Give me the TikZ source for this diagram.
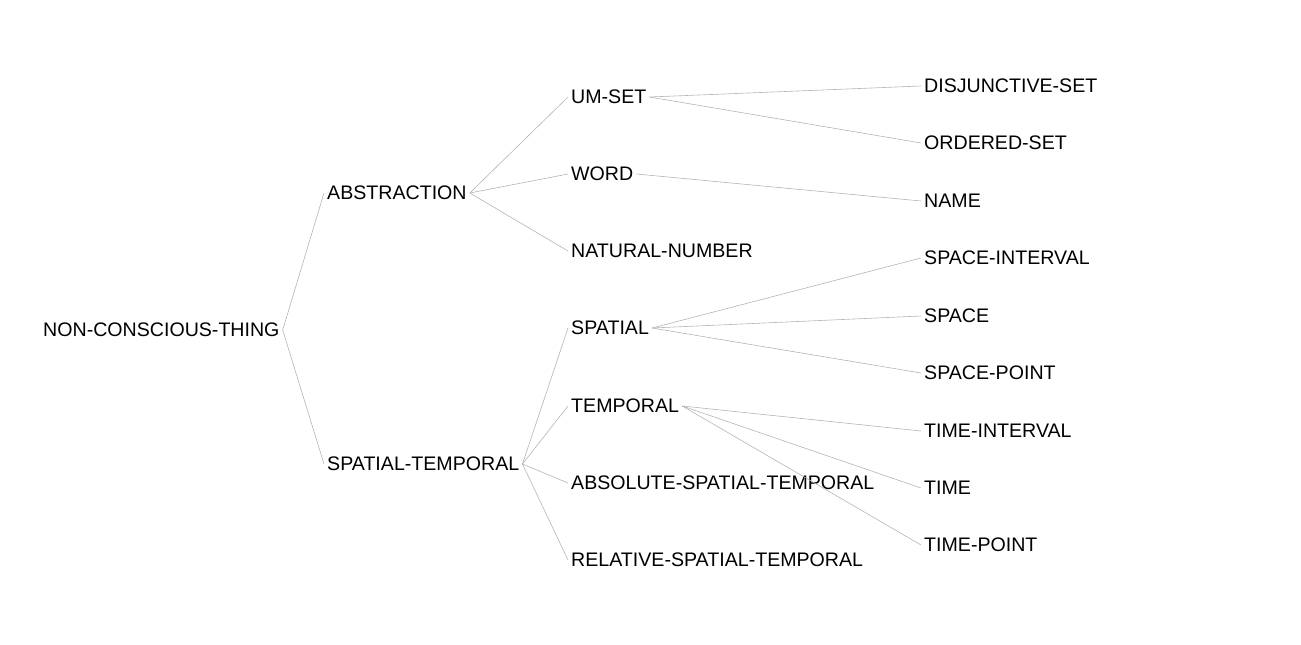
\documentclass[tikz,border=0pt]{standalone}
\usepackage{fontspec}
\setmainfont{Liberation Sans}
\begin{document}
\begin{tikzpicture}[x=1pt,y=-1pt,
  lbl/.style={anchor=west,inner xsep=3pt,inner ysep=0pt,font=\fontsize{19.6}{23}\selectfont},
  edge/.style={draw={rgb,255:red,180;green,180;blue,180},line width=0.6pt}]
\useasboundingbox (0,0) rectangle (1301,645);
\node[lbl] (nct) at (40,330) {NON-CONSCIOUS-THING};
\node[lbl] (abs) at (324,193) {ABSTRACTION};
\node[lbl] (st) at (324,464) {SPATIAL-TEMPORAL};
\node[lbl] (um) at (568,97) {UM-SET};
\node[lbl] (word) at (568,174) {WORD};
\node[lbl] (nat) at (568,251) {NATURAL-NUMBER};
\node[lbl] (spa) at (568,328) {SPATIAL};
\node[lbl] (tem) at (568,406) {TEMPORAL};
\node[lbl] (ast) at (568,483) {ABSOLUTE-SPATIAL-TEMPORAL};
\node[lbl] (rst) at (568,560) {RELATIVE-SPATIAL-TEMPORAL};
\node[lbl] (dis) at (921,86) {DISJUNCTIVE-SET};
\node[lbl] (ord) at (921,143) {ORDERED-SET};
\node[lbl] (name) at (921,201) {NAME};
\node[lbl] (spi) at (921,258) {SPACE-INTERVAL};
\node[lbl] (spc) at (921,316) {SPACE};
\node[lbl] (spp) at (921,373) {SPACE-POINT};
\node[lbl] (tii) at (921,431) {TIME-INTERVAL};
\node[lbl] (tim) at (921,488) {TIME};
\node[lbl] (tip) at (921,545) {TIME-POINT};
\foreach \a/\b in {nct/abs,nct/st,abs/um,abs/word,abs/nat,st/spa,st/tem,st/ast,st/rst,
  um/dis,um/ord,word/name,spa/spi,spa/spc,spa/spp,tem/tii,tem/tim,tem/tip}
  \draw[edge] (\a.east) -- (\b.west);
\end{tikzpicture}
\end{document}
